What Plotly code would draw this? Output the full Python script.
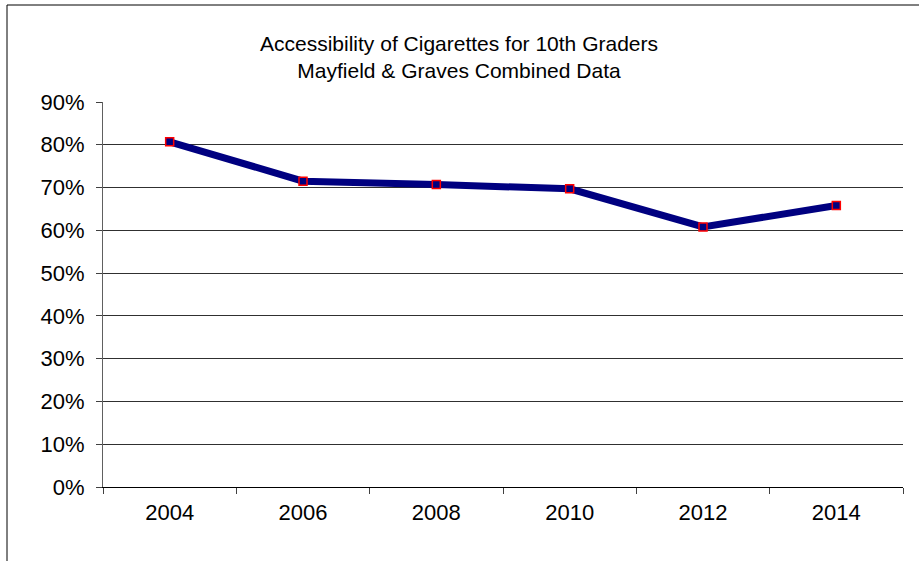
import plotly.graph_objects as go

years = ["2004", "2006", "2008", "2010", "2012", "2014"]
accessibility = [0.807, 0.715, 0.707, 0.697, 0.608, 0.658]
y_ticks = [0, 0.1, 0.2, 0.3, 0.4, 0.5, 0.6, 0.7, 0.8, 0.9]
y_tick_labels = ["0%", "10%", "20%", "30%", "40%", "50%", "60%", "70%", "80%", "90%"]

W, H = 919, 561
ML, MR, MT, MB = 103, 16, 102, 74
PW, PH = W - ML - MR, H - MT - MB

def px_x(p):
    return (p - ML) / PW

def px_y(p):
    return (H - MB - p) / PH

fig = go.Figure()
fig.add_trace(go.Scatter(
    x=years, y=accessibility, mode="lines+markers",
    line=dict(color="#000080", width=7),
    marker=dict(symbol="square", size=8, color="#000080",
                line=dict(color="#FF0000", width=1.5)),
    showlegend=False, hoverinfo="skip",
))

fig.update_layout(
    width=W, height=H,
    margin=dict(l=ML, r=MR, t=MT, b=MB),
    paper_bgcolor="white", plot_bgcolor="white",
    font=dict(family="Liberation Sans, Arial, sans-serif", size=22, color="black"),
    showlegend=False,
    xaxis=dict(
        type="category", range=[-0.5, len(years) - 0.5],
        tickson="boundaries", ticks="outside", ticklen=6,
        tickcolor="#404040", showline=True, linecolor="black", linewidth=1,
        showgrid=False, zeroline=False, ticklabelstandoff=6,
        tickfont=dict(size=22),
    ),
    yaxis=dict(
        range=[0, 0.9], tickvals=y_ticks, ticktext=y_tick_labels,
        ticks="outside", ticklen=6, tickcolor="#404040",
        showline=True, linecolor="#606060", linewidth=1,
        showgrid=True, gridcolor="#303030", gridwidth=1,
        zeroline=False, ticklabelstandoff=7, tickfont=dict(size=22),
    ),
    annotations=[dict(
        text="Accessibility of Cigarettes for 10th Graders<br>Mayfield &amp; Graves Combined Data",
        xref="paper", yref="paper", x=px_x(459), y=px_y(30),
        xanchor="center", yanchor="top", showarrow=False,
        font=dict(size=21, color="black"),
    )],
    shapes=[dict(
        type="rect", xref="paper", yref="paper",
        x0=px_x(7), x1=px_x(930), y0=px_y(5), y1=px_y(570),
        line=dict(color="black", width=1), fillcolor="rgba(0,0,0,0)", layer="below",
    )],
)

fig.write_html("out.html", config={"displayModeBar": False},
               post_script="document.body.style.margin='0';document.body.style.overflow='hidden';")
